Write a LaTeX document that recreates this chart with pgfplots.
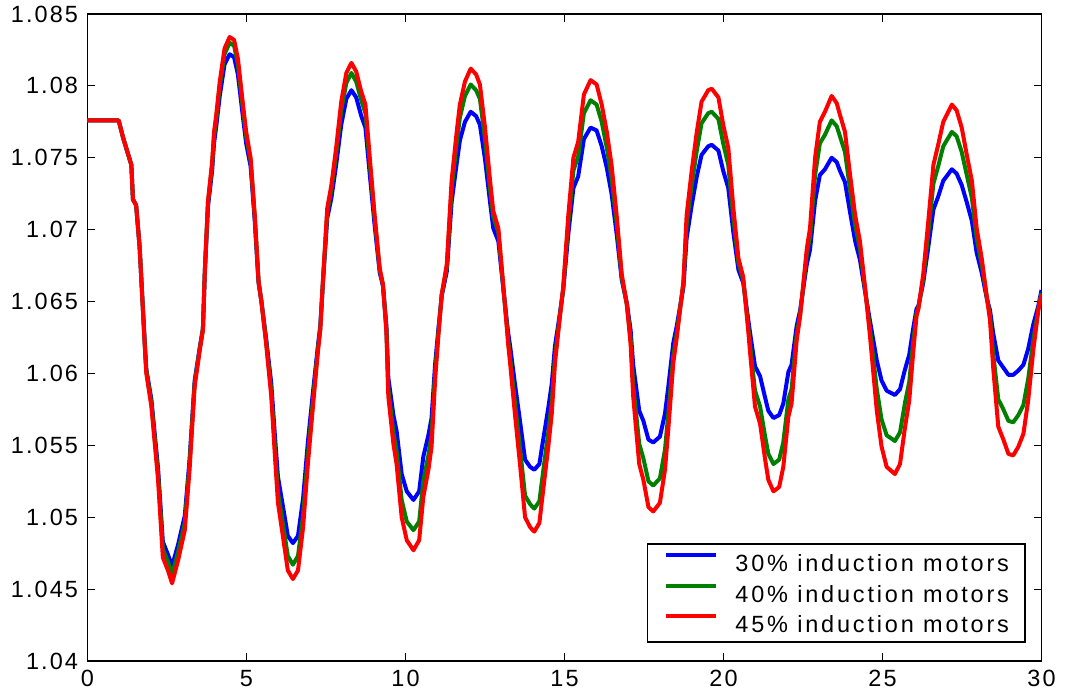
\documentclass[border=0pt]{standalone}
\usepackage{pgfplots}
\pgfplotsset{compat=1.18}
\usepackage{pgfplotstable}
\usepackage{fontspec}
\setmainfont{Liberation Sans}[LetterSpace=9]
\newfontfamily\legfont{Liberation Sans}[LetterSpace=12]

% columns: time, 45% (red), 40% (green), 30% (blue)
\pgfplotstableread{
x     r      g      b
0     1.0776 1.0776 1.0776
0.98  1.0776 1.0776 1.0776
1.12  1.0764 1.0764 1.0764
1.38  1.0745 1.0745 1.0745
1.43  1.0721 1.0721 1.0721
1.53  1.0717 1.0717 1.0717
1.64  1.0688 1.0688 1.0688
1.80  1.0620 1.0621 1.0622
1.85  1.0600 1.0602 1.0603
2.01  1.0577 1.0579 1.0582
2.22  1.0526 1.0530 1.0534
2.37  1.0472 1.0478 1.0483
2.53  1.0463 1.0469 1.0474
2.66  1.0454 1.0460 1.0466
2.85  1.0470 1.0476 1.0481
3.06  1.0491 1.0496 1.0501
3.21  1.0533 1.0537 1.0540
3.37  1.0591 1.0593 1.0595
3.53  1.0616 1.0617 1.0618
3.63  1.0630 1.0631 1.0631
3.69  1.0671 1.0671 1.0670
3.79  1.0720 1.0719 1.0716
3.92  1.0747 1.0745 1.0741
3.98  1.0768 1.0765 1.0760
4.05  1.0780 1.0777 1.0772
4.16  1.0803 1.0800 1.0793
4.31  1.0826 1.0822 1.0815
4.47  1.0834 1.0830 1.0822
4.61  1.0832 1.0828 1.0820
4.73  1.0819 1.0815 1.0808
4.89  1.0787 1.0784 1.0778
4.99  1.0768 1.0765 1.0760
5.13  1.0750 1.0748 1.0744
5.26  1.0710 1.0709 1.0706
5.38  1.0664 1.0664 1.0663
5.47  1.0650 1.0650 1.0650
5.62  1.0620 1.0622 1.0624
5.78  1.0584 1.0587 1.0593
5.89  1.0544 1.0550 1.0558
5.99  1.0510 1.0517 1.0528
6.15  1.0486 1.0495 1.0507
6.30  1.0463 1.0473 1.0487
6.46  1.0457 1.0467 1.0482
6.62  1.0463 1.0473 1.0487
6.78  1.0493 1.0501 1.0513
6.93  1.0537 1.0543 1.0552
7.09  1.0577 1.0581 1.0587
7.25  1.0616 1.0618 1.0620
7.32  1.0630 1.0631 1.0633
7.41  1.0667 1.0666 1.0665
7.54  1.0715 1.0712 1.0708
7.67  1.0731 1.0728 1.0722
7.82  1.0757 1.0753 1.0745
7.98  1.0789 1.0783 1.0773
8.14  1.0809 1.0802 1.0791
8.30  1.0816 1.0809 1.0797
8.45  1.0810 1.0803 1.0792
8.61  1.0796 1.0790 1.0779
8.74  1.0787 1.0781 1.0771
8.87  1.0752 1.0748 1.0740
9.03  1.0710 1.0708 1.0703
9.19  1.0673 1.0672 1.0670
9.29  1.0662 1.0662 1.0661
9.40  1.0629 1.0631 1.0633
9.46  1.0584 1.0589 1.0597
9.62  1.0551 1.0559 1.0571
9.72  1.0537 1.0546 1.0560
9.88  1.0500 1.0512 1.0530
10.04 1.0484 1.0497 1.0518
10.25 1.0477 1.0491 1.0512
10.43 1.0484 1.0497 1.0518
10.56 1.0514 1.0525 1.0542
10.72 1.0533 1.0543 1.0557
10.82 1.0549 1.0557 1.0569
10.93 1.0595 1.0600 1.0606
11.03 1.0625 1.0627 1.0630
11.14 1.0655 1.0655 1.0654
11.30 1.0676 1.0674 1.0671
11.45 1.0734 1.0728 1.0719
11.61 1.0768 1.0760 1.0746
11.71 1.0787 1.0778 1.0762
11.87 1.0803 1.0793 1.0775
12.05 1.0812 1.0801 1.0782
12.22 1.0808 1.0797 1.0779
12.34 1.0801 1.0791 1.0773
12.50 1.0771 1.0763 1.0749
12.66 1.0734 1.0728 1.0719
12.76 1.0713 1.0709 1.0701
12.92 1.0701 1.0698 1.0692
13.08 1.0660 1.0659 1.0658
13.23 1.0620 1.0623 1.0628
13.29 1.0607 1.0611 1.0619
13.44 1.0572 1.0580 1.0593
13.60 1.0537 1.0548 1.0567
13.76 1.0500 1.0515 1.0540
13.92 1.0493 1.0509 1.0535
14.05 1.0490 1.0506 1.0533
14.21 1.0496 1.0511 1.0537
14.33 1.0519 1.0532 1.0554
14.49 1.0549 1.0559 1.0576
14.60 1.0572 1.0580 1.0593
14.70 1.0607 1.0611 1.0619
14.81 1.0630 1.0632 1.0635
14.96 1.0660 1.0659 1.0658
15.12 1.0710 1.0705 1.0697
15.28 1.0750 1.0741 1.0729
15.43 1.0761 1.0751 1.0737
15.61 1.0794 1.0781 1.0763
15.82 1.0804 1.0790 1.0771
16.01 1.0801 1.0787 1.0769
16.17 1.0787 1.0775 1.0758
16.33 1.0768 1.0757 1.0743
16.48 1.0745 1.0736 1.0725
16.64 1.0710 1.0705 1.0697
16.80 1.0669 1.0667 1.0665
16.96 1.0648 1.0648 1.0649
17.08 1.0620 1.0624 1.0630
17.16 1.0584 1.0592 1.0606
17.35 1.0537 1.0551 1.0574
17.48 1.0526 1.0541 1.0567
17.64 1.0507 1.0525 1.0554
17.79 1.0504 1.0522 1.0552
18.00 1.0510 1.0527 1.0556
18.16 1.0533 1.0547 1.0572
18.26 1.0560 1.0571 1.0590
18.42 1.0607 1.0612 1.0621
18.53 1.0625 1.0628 1.0633
18.74 1.0664 1.0663 1.0660
18.84 1.0710 1.0704 1.0694
19.00 1.0741 1.0731 1.0717
19.16 1.0768 1.0755 1.0737
19.31 1.0789 1.0774 1.0752
19.52 1.0797 1.0781 1.0758
19.63 1.0798 1.0782 1.0759
19.84 1.0792 1.0777 1.0755
19.99 1.0773 1.0760 1.0741
20.15 1.0757 1.0745 1.0729
20.31 1.0715 1.0708 1.0698
20.47 1.0680 1.0677 1.0672
20.62 1.0667 1.0665 1.0663
20.78 1.0629 1.0632 1.0637
20.83 1.0616 1.0621 1.0629
20.99 1.0577 1.0588 1.0605
21.15 1.0565 1.0577 1.0598
21.31 1.0540 1.0556 1.0583
21.41 1.0526 1.0544 1.0574
21.57 1.0518 1.0537 1.0569
21.75 1.0521 1.0540 1.0571
21.88 1.0535 1.0552 1.0579
22.04 1.0570 1.0582 1.0601
22.14 1.0579 1.0589 1.0606
22.30 1.0623 1.0627 1.0633
22.41 1.0640 1.0641 1.0644
22.62 1.0687 1.0683 1.0676
22.72 1.0701 1.0695 1.0686
22.88 1.0750 1.0738 1.0720
23.03 1.0775 1.0760 1.0738
23.19 1.0782 1.0766 1.0742
23.40 1.0793 1.0776 1.0750
23.56 1.0788 1.0772 1.0747
23.66 1.0780 1.0765 1.0741
23.82 1.0768 1.0754 1.0733
23.98 1.0738 1.0728 1.0712
24.14 1.0710 1.0703 1.0692
24.29 1.0692 1.0687 1.0679
24.45 1.0660 1.0659 1.0657
24.61 1.0625 1.0630 1.0636
24.82 1.0574 1.0589 1.0609
24.97 1.0549 1.0568 1.0595
25.13 1.0535 1.0557 1.0588
25.39 1.0530 1.0553 1.0585
25.55 1.0537 1.0559 1.0589
25.71 1.0563 1.0580 1.0603
25.84 1.0581 1.0594 1.0613
25.97 1.0616 1.0623 1.0632
26.07 1.0640 1.0642 1.0645
26.13 1.0645 1.0646 1.0647
26.28 1.0669 1.0666 1.0663
26.44 1.0706 1.0698 1.0688
26.60 1.0745 1.0732 1.0714
26.75 1.0759 1.0744 1.0723
26.91 1.0775 1.0758 1.0734
27.18 1.0787 1.0768 1.0742
27.33 1.0783 1.0765 1.0739
27.49 1.0771 1.0754 1.0731
27.65 1.0752 1.0738 1.0719
27.81 1.0734 1.0722 1.0706
27.96 1.0701 1.0694 1.0684
28.12 1.0680 1.0676 1.0670
28.28 1.0653 1.0653 1.0652
28.38 1.0637 1.0640 1.0644
28.48 1.0604 1.0614 1.0628
28.64 1.0563 1.0582 1.0609
28.80 1.0554 1.0575 1.0604
28.96 1.0544 1.0567 1.0599
29.11 1.0543 1.0566 1.0599
29.27 1.0549 1.0571 1.0602
29.43 1.0558 1.0578 1.0606
29.58 1.0581 1.0596 1.0617
29.74 1.0616 1.0623 1.0634
29.90 1.0644 1.0645 1.0647
30    1.0655 1.0656 1.0658
}\motors

\definecolor{mblue}{RGB}{0,0,255}
\definecolor{mgreen}{RGB}{0,128,0}
\definecolor{mred}{RGB}{255,0,0}

\begin{document}
\begin{tikzpicture}
\begin{axis}[
  scale only axis,
  width=357.75pt, height=242.6pt,
  xmin=0, xmax=30,
  ymin=1.04, ymax=1.085,
  xtick={0,5,10,15,20,25,30},
  ytick={1.04,1.045,1.05,1.055,1.06,1.065,1.07,1.075,1.08,1.085},
  yticklabels={1.04,1.045,1.05,1.055,1.06,1.065,1.07,1.075,1.08,1.085},
  tick align=inside,
  major tick length=3pt,
  tick style={black, line width=0.4pt},
  axis line style={black, line width=0.5pt},
  /pgf/number format/assume math mode=true,
  tick label style={font=\fontsize{8.8}{10}\selectfont},
  legend style={
    at={(axis description cs:1,0)}, anchor=south east,
    xshift=-5.8pt, yshift=6.9pt,
    draw=black, line width=0.6pt,
    inner xsep=6.1pt, inner ysep=3.4pt,
    row sep=4.4pt, column sep=6.4pt,
    font=\legfont\fontsize{8.8}{10}\selectfont,
    nodes={inner sep=0pt, text height=6.3pt, text depth=0pt},
  },
  legend cell align=left,
  legend image code/.code={\draw[#1, line width=1.5pt] (0pt,3.1pt) -- (19pt,3.1pt);},
]
\addplot[mblue, line width=1.5pt, line join=round] table[x=x, y=b] {\motors};
\addlegendentry{30\% induction motors\hspace{3.8pt}}
\addplot[mgreen, line width=1.5pt, line join=round] table[x=x, y=g] {\motors};
\addlegendentry{40\% induction motors\hspace{3.8pt}}
\addplot[mred, line width=1.5pt, line join=round] table[x=x, y=r] {\motors};
\addlegendentry{45\% induction motors\hspace{3.8pt}}
\end{axis}
\pgfresetboundingbox
\useasboundingbox (-32.8pt,-14.25pt) rectangle (366.55pt,247.85pt);
\end{tikzpicture}
\end{document}
